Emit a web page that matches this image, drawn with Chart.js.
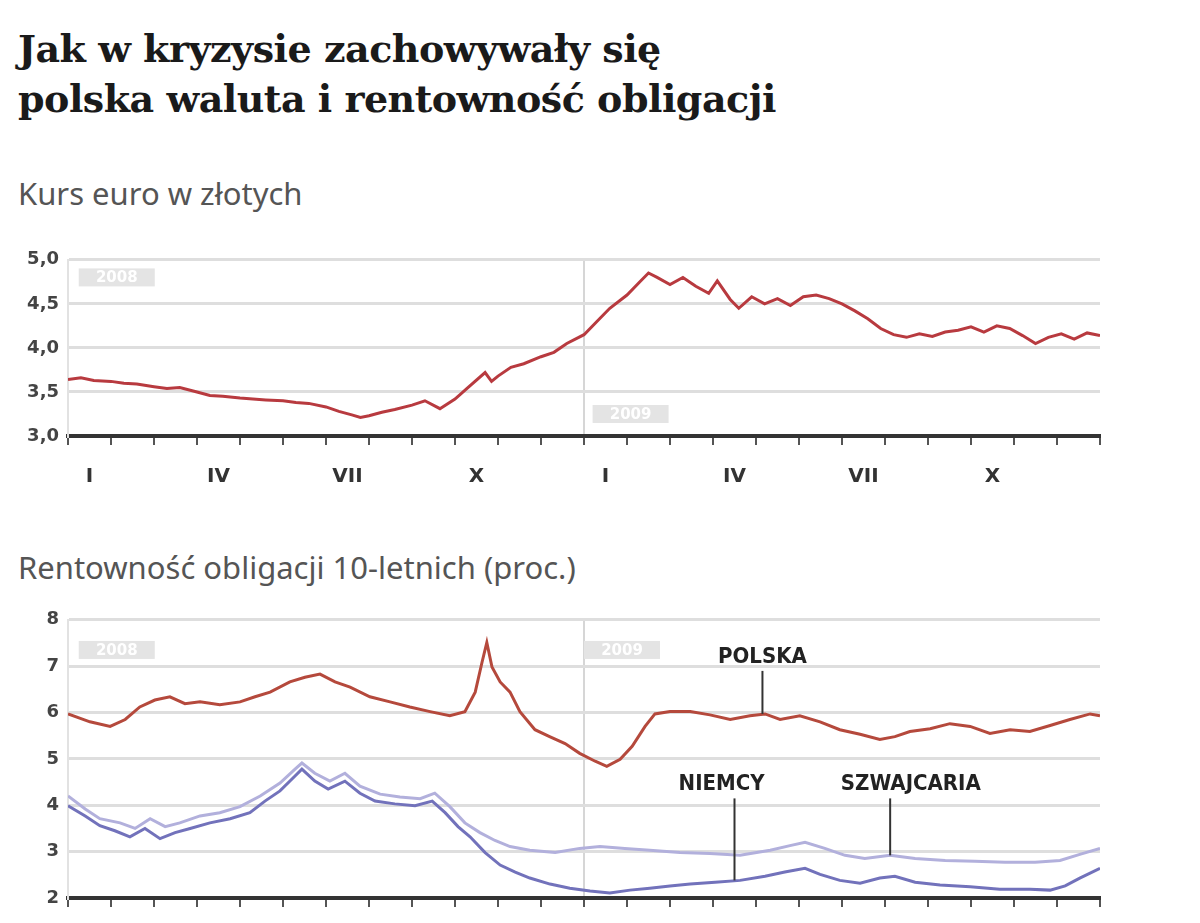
<!DOCTYPE html>
<html lang="pl">
<head>
<meta charset="utf-8">
<title>Kurs euro i rentowność obligacji</title>
<script src="https://cdn.jsdelivr.net/npm/chart.js@4.4.1/dist/chart.umd.min.js"></script>
<style>
  body { margin: 0; background: #fff; width: 1200px; height: 923px; overflow: hidden; position: relative; }
  #tytul { position: absolute; left: 18px; top: 24px; font: bold 38px "DejaVu Serif", serif; line-height: 50px; color: #1a1a1a; letter-spacing: -0.5px; }
  .podtytul { position: absolute; left: 18px; font: 31px "Noto Sans", sans-serif; color: #555; }
  .wykres { position: absolute; left: 0; width: 1200px; }
</style>
</head>
<body>
<div id="tytul">Jak w kryzysie zachowywały się<br>polska waluta i rentowność obligacji</div>
<div class="podtytul" style="top:172px">Kurs euro w złotych</div>
<div class="wykres" style="top:240px;height:260px"><canvas id="kurs"></canvas></div>
<div class="podtytul" style="top:546px">Rentowność obligacji 10-letnich (proc.)</div>
<div class="wykres" style="top:600px;height:323px"><canvas id="rentownosc"></canvas></div>
<script>
// etykiety kwartałów (środek stycznia, kwietnia, lipca, października) 2008-2009
const kwartaly = ['I', 'IV', 'VII', 'X', 'I', 'IV', 'VII', 'X'];

// kurs EUR/PLN - pozycja w miesiącach od 1 stycznia 2008
const kursMies = [0, 0.3, 0.6, 1, 1.3, 1.6, 2, 2.3, 2.6, 3, 3.3, 3.6, 4, 4.3, 4.6, 5, 5.3, 5.6, 6, 6.3, 6.6, 6.8, 7, 7.3, 7.6, 8, 8.3, 8.65, 9, 9.3, 9.7, 9.85, 10, 10.3, 10.6, 11, 11.3, 11.6, 12, 12.3, 12.6, 13, 13.3, 13.5, 13.7, 14, 14.3, 14.6, 14.9, 15.1, 15.4, 15.6, 15.9, 16.2, 16.5, 16.8, 17.1, 17.4, 17.7, 18, 18.3, 18.6, 18.9, 19.2, 19.5, 19.8, 20.1, 20.4, 20.7, 21, 21.3, 21.6, 21.9, 22.2, 22.5, 22.8, 23.1, 23.4, 23.7, 24];
const kursEur = [3.64, 3.66, 3.63, 3.62, 3.6, 3.59, 3.56, 3.54, 3.55, 3.5, 3.46, 3.45, 3.43, 3.42, 3.41, 3.4, 3.38, 3.37, 3.33, 3.28, 3.24, 3.21, 3.23, 3.27, 3.3, 3.35, 3.4, 3.31, 3.42, 3.55, 3.72, 3.62, 3.68, 3.78, 3.82, 3.9, 3.95, 4.05, 4.15, 4.3, 4.45, 4.6, 4.75, 4.85, 4.8, 4.72, 4.8, 4.7, 4.62, 4.76, 4.55, 4.45, 4.58, 4.5, 4.56, 4.48, 4.58, 4.6, 4.56, 4.5, 4.42, 4.33, 4.22, 4.15, 4.12, 4.16, 4.13, 4.18, 4.2, 4.24, 4.18, 4.25, 4.22, 4.14, 4.05, 4.12, 4.16, 4.1, 4.17, 4.14];

// rentowność obligacji (proc.)
const polskaMies = [0, 0.51, 0.98, 1.33, 1.67, 2.02, 2.37, 2.72, 3.07, 3.53, 4, 4.35, 4.7, 5.16, 5.51, 5.86, 6.21, 6.56, 7.02, 7.49, 7.95, 8.42, 8.88, 9.23, 9.47, 9.63, 9.74, 9.86, 10.05, 10.28, 10.51, 10.86, 11.2, 11.56, 11.9, 12.26, 12.53, 12.84, 13.12, 13.42, 13.65, 14, 14.47, 14.93, 15.4, 15.86, 16.21, 16.56, 17.02, 17.49, 17.95, 18.42, 18.88, 19.23, 19.58, 20.05, 20.51, 20.98, 21.44, 21.91, 22.37, 22.84, 23.3, 23.77, 24];
const polska = [5.97, 5.8, 5.7, 5.85, 6.12, 6.27, 6.34, 6.19, 6.23, 6.17, 6.23, 6.34, 6.44, 6.66, 6.76, 6.83, 6.66, 6.55, 6.34, 6.23, 6.12, 6.02, 5.93, 6.02, 6.44, 7.09, 7.51, 6.98, 6.66, 6.44, 6.02, 5.63, 5.48, 5.33, 5.12, 4.95, 4.84, 4.99, 5.27, 5.7, 5.97, 6.02, 6.02, 5.95, 5.85, 5.93, 5.97, 5.85, 5.93, 5.8, 5.63, 5.53, 5.42, 5.48, 5.59, 5.65, 5.76, 5.7, 5.55, 5.63, 5.59, 5.72, 5.85, 5.97, 5.93];

const niemcyMies = [0, 0.4, 0.74, 1.09, 1.44, 1.79, 2.14, 2.49, 2.84, 3.3, 3.77, 4.23, 4.58, 4.93, 5.28, 5.44, 5.74, 6.05, 6.44, 6.79, 7.14, 7.6, 8.07, 8.47, 8.77, 9.07, 9.35, 9.7, 10.05, 10.4, 10.74, 11.21, 11.67, 12.14, 12.6, 13.07, 13.53, 14, 14.47, 15.05, 15.63, 16.21, 16.67, 17.14, 17.49, 17.95, 18.42, 18.88, 19.23, 19.7, 20.28, 20.98, 21.67, 22.37, 22.84, 23.19, 23.53, 24];
const niemcy = [3.99, 3.77, 3.56, 3.45, 3.32, 3.5, 3.28, 3.41, 3.5, 3.62, 3.71, 3.84, 4.09, 4.31, 4.63, 4.78, 4.52, 4.35, 4.52, 4.26, 4.09, 4.03, 3.99, 4.09, 3.84, 3.54, 3.32, 2.98, 2.71, 2.56, 2.43, 2.3, 2.21, 2.15, 2.11, 2.17, 2.21, 2.26, 2.3, 2.34, 2.38, 2.47, 2.56, 2.64, 2.51, 2.38, 2.32, 2.43, 2.47, 2.34, 2.28, 2.24, 2.19, 2.19, 2.17, 2.26, 2.43, 2.64];

const drugiMies = [0, 0.4, 0.74, 1.21, 1.56, 1.91, 2.26, 2.6, 3.07, 3.53, 4, 4.47, 4.93, 5.28, 5.44, 5.74, 6.09, 6.44, 6.79, 7.26, 7.72, 8.19, 8.53, 8.88, 9.23, 9.58, 9.93, 10.28, 10.74, 11.33, 11.9, 12.37, 12.95, 13.53, 14.23, 14.93, 15.63, 16.33, 16.79, 17.14, 17.6, 18.07, 18.53, 19.12, 19.7, 20.4, 21.09, 21.79, 22.49, 23.07, 23.53, 24];
const drugi = [4.2, 3.92, 3.71, 3.62, 3.5, 3.71, 3.54, 3.62, 3.77, 3.84, 3.97, 4.2, 4.48, 4.78, 4.91, 4.69, 4.52, 4.69, 4.41, 4.24, 4.18, 4.14, 4.26, 3.97, 3.62, 3.41, 3.24, 3.11, 3.03, 2.98, 3.07, 3.11, 3.07, 3.03, 2.98, 2.96, 2.92, 3.03, 3.13, 3.2, 3.07, 2.92, 2.85, 2.92, 2.85, 2.81, 2.79, 2.77, 2.77, 2.81, 2.94, 3.07];

const punkty = (xs, ys) => xs.map((x, i) => ({ x: x, y: ys[i] }));

// napisy i wskaźniki rysowane w układzie współrzędnych wykresu
function etykietyPlugin(lista) {
  return {
    id: 'etykiety',
    afterDatasetsDraw(chart) {
      const c = chart.ctx, sx = chart.scales.x, sy = chart.scales.y;
      c.save();
      lista.forEach(e => {
        const px = sx.getPixelForValue(e.x), py = sy.getPixelForValue(e.y);
        if (e.rok) {
          c.fillStyle = '#e4e4e4';
          c.fillRect(px, py - 9, 76, 18);
          c.fillStyle = '#ffffff';
          c.font = 'bold 15px "DejaVu Sans"';
          c.textAlign = 'center';
          c.textBaseline = 'middle';
          c.fillText(e.tekst, px + 38, py + 1);
          return;
        }
        c.fillStyle = '#222';
        c.font = 'bold 22px "DejaVu Sans Condensed", "DejaVu Sans"';
        c.textAlign = 'center';
        c.textBaseline = 'middle';
        c.fillText(e.tekst, px, py);
        if (e.do !== undefined) {
          c.strokeStyle = '#333';
          c.lineWidth = 2;
          c.beginPath();
          c.moveTo(sx.getPixelForValue(e.px), py + 14);
          c.lineTo(sx.getPixelForValue(e.px), sy.getPixelForValue(e.do));
          c.stroke();
        }
      });
      c.restore();
    }
  };
}

function osX(wysokosc, podpisy) {
  return {
    type: 'linear', min: 0, max: 24,
    afterBuildTicks: s => {
      const t = [];
      for (let v = 0; v <= 24; v += 0.5) t.push({ value: v });
      s.ticks = t;
    },
    afterFit: s => { s.height = wysokosc; },
    ticks: {
      autoSkip: false, maxRotation: 0, padding: 20,
      color: '#333', font: { family: 'DejaVu Sans', size: 20, weight: 'bold' },
      callback: v => {
        if (!podpisy) return '';
        const k = (v - 0.5) / 3;
        return Number.isInteger(k) ? kwartaly[k] : '';
      }
    },
    grid: {
      drawOnChartArea: true, tickLength: 9, lineWidth: 2,
      color: c => (c.tick && c.tick.value === 12) ? '#d6d6d6' : 'rgba(0,0,0,0)',
      tickColor: c => (c.tick && Number.isInteger(c.tick.value)) ? '#555' : 'rgba(0,0,0,0)',
      tickWidth: 2
    },
    border: { color: '#333', width: 4 }
  };
}

function osY(min, max, krok, format) {
  return {
    min: min, max: max,
    afterFit: s => { s.width = 68; },
    ticks: {
      stepSize: krok, padding: 9, color: '#444',
      font: { family: 'DejaVu Sans', size: 18, weight: 'bold' },
      callback: format
    },
    grid: {
      drawTicks: false, lineWidth: 3,
      color: c => (c.tick && c.tick.value === min) ? 'rgba(0,0,0,0)' : '#dedede'
    },
    border: { color: '#e2e2e2', width: 2 }
  };
}

const linia = (dane, kolor) => ({
  data: dane, borderColor: kolor, borderWidth: 3, pointRadius: 0, tension: 0, fill: false
});

new Chart(document.getElementById('kurs'), {
  type: 'line',
  data: { datasets: [linia(punkty(kursMies, kursEur), '#b83a3f')] },
  options: {
    responsive: true, maintainAspectRatio: false, animation: false,
    layout: { padding: { top: 14, right: 100, left: 0, bottom: 0 } },
    plugins: { legend: { display: false }, tooltip: { enabled: false } },
    scales: {
      x: osX(64, true),
      y: osY(3, 5, 0.5, v => v.toFixed(1).replace('.', ','))
    }
  },
  plugins: [etykietyPlugin([
    { rok: true, tekst: '2008', x: 0.25, y: 4.8 },
    { rok: true, tekst: '2009', x: 12.2, y: 3.25 }
  ])]
});

new Chart(document.getElementById('rentownosc'), {
  type: 'line',
  data: {
    datasets: [
      linia(punkty(drugiMies, drugi), '#b2b0dc'),
      linia(punkty(niemcyMies, niemcy), '#7272bb'),
      linia(punkty(polskaMies, polska), '#b5493c')
    ]
  },
  options: {
    responsive: true, maintainAspectRatio: false, animation: false,
    layout: { padding: { top: 17, right: 100, left: 0, bottom: 0 } },
    plugins: { legend: { display: false }, tooltip: { enabled: false } },
    scales: {
      x: osX(25, false),
      y: osY(2, 8, 1, v => String(v))
    }
  },
  plugins: [etykietyPlugin([
    { rok: true, tekst: '2008', x: 0.25, y: 7.35 },
    { rok: true, tekst: '2009', x: 12.0, y: 7.35 },
    { tekst: 'POLSKA', x: 16.15, y: 7.2, px: 16.15, do: 5.97 },
    { tekst: 'NIEMCY', x: 15.2, y: 4.45, px: 15.5, do: 2.38 },
    { tekst: 'SZWAJCARIA', x: 19.6, y: 4.45, px: 19.12, do: 2.92 }
  ])]
});
</script>
</body>
</html>
